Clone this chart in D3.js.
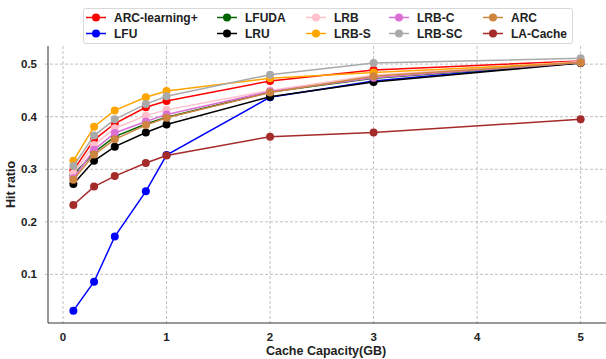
<!DOCTYPE html>
<html><head><meta charset="utf-8">
<script src="https://cdn.jsdelivr.net/npm/d3@7"></script>
<style>body{margin:0;background:#fff}svg{display:block;font-family:"Liberation Sans",Arial,sans-serif}</style>
</head><body><svg id="c" width="606" height="359"></svg>
<script>
const capacities = [0.1, 0.3, 0.5, 0.8, 1, 2, 3, 5];
const seriesNames = ["ARC-learning+","LFU","LFUDA","LRU","LRB","LRB-S","LRB-C","LRB-SC","ARC","LA-Cache"];
const seriesColors = ["#ff0000","#0000ff","#006400","#000000","#ffc0cb","#ffa500","#da70d6","#a9a9a9","#cd853f","#a52a2a"];
const arcLearning = [0.298,0.356,0.387,0.418,0.430,0.468,0.489,0.506];
const lfu         = [0.031,0.086,0.172,0.258,0.327,0.437,0.468,0.503];
const lfuda       = [0.289,0.332,0.362,0.386,0.399,0.447,0.473,0.502];
const lru         = [0.272,0.316,0.343,0.370,0.385,0.438,0.466,0.502];
const lrb         = [0.292,0.346,0.378,0.402,0.413,0.450,0.479,0.505];
const lrbS        = [0.316,0.381,0.412,0.437,0.449,0.473,0.484,0.503];
const lrbC        = [0.283,0.337,0.369,0.391,0.404,0.448,0.474,0.503];
const lrbSC       = [0.306,0.364,0.395,0.424,0.439,0.480,0.502,0.511];
const arc         = [0.280,0.328,0.357,0.384,0.398,0.446,0.477,0.503];
const laCache     = [0.232,0.267,0.287,0.312,0.326,0.362,0.370,0.395];
const seriesValues = [arcLearning,lfu,lfuda,lru,lrb,lrbS,lrbC,lrbSC,arc,laCache];
const xTicks = [0,1,2,3,4,5];
const yTicks = [0.1,0.2,0.3,0.4,0.5];
const xLabel = "Cache Capacity(GB)";
const yLabel = "Hit ratio";

const svg = d3.select("#c");
const L = 48, R = 606, T = 46, B = 323;
const x = d3.scaleLinear().domain([-0.145, 5.245]).range([L, R]);
const y = d3.scaleLinear().domain([0.0075, 0.5345]).range([B, T]);

// grid
const g = svg.append("g");
g.selectAll(".gx").data(xTicks).join("line")
  .attr("x1", d=>x(d)).attr("x2", d=>x(d)).attr("y1", T).attr("y2", B+3)
  .attr("stroke", "#b0b0b0").attr("stroke-width", 0.8).attr("stroke-dasharray", "3,2");
g.selectAll(".gy").data(yTicks).join("line")
  .attr("y1", d=>y(d)).attr("y2", d=>y(d)).attr("x1", L-3).attr("x2", R)
  .attr("stroke", "#b0b0b0").attr("stroke-width", 0.8).attr("stroke-dasharray", "3,2");

// spines
svg.append("line").attr("x1", L).attr("x2", L).attr("y1", T).attr("y2", B).attr("stroke", "#333").attr("stroke-width", 1);
svg.append("line").attr("x1", L).attr("x2", R).attr("y1", B).attr("y2", B).attr("stroke", "#333").attr("stroke-width", 1);

// tick labels
svg.selectAll(".xt").data(xTicks).join("text")
  .attr("x", d=>x(d)).attr("y", B+18).attr("text-anchor","middle")
  .attr("font-size", 11.5).attr("font-weight","bold").attr("fill","#222").text(d=>d);
svg.selectAll(".yt").data(yTicks).join("text")
  .attr("x", L-11).attr("y", d=>y(d)+4).attr("text-anchor","end")
  .attr("font-size", 11.5).attr("font-weight","bold").attr("fill","#222").text(d=>d.toFixed(1));

svg.append("text").attr("x", 326).attr("y", 355).attr("text-anchor","middle")
  .attr("font-size", 12.5).attr("font-weight","bold").attr("fill","#222").text(xLabel);
svg.append("text").attr("transform","translate(15,"+((T+B)/2)+") rotate(-90)").attr("text-anchor","middle")
  .attr("font-size", 12.5).attr("font-weight","bold").attr("fill","#222").text(yLabel);

// series
const line = d3.line().x((d,i)=>x(capacities[i])).y(d=>y(d));
seriesValues.forEach((vals, k) => {
  const sg = svg.append("g");
  sg.append("path").attr("d", line(vals)).attr("fill","none")
    .attr("stroke", seriesColors[k]).attr("stroke-width", 1.5);
  sg.selectAll("circle").data(vals).join("circle")
    .attr("cx", (d,i)=>x(capacities[i])).attr("cy", d=>y(d)).attr("r", 4)
    .attr("fill", seriesColors[k]);
});

// legend
const lg = svg.append("g");
lg.append("rect").attr("x", 83.5).attr("y", 8.5).attr("width", 489).attr("height", 35)
  .attr("rx", 2).attr("fill","#fff").attr("stroke","#d8d8d8");
const colX = [86, 217, 306, 389, 483];
const rowY = [17.5, 33.5];
seriesNames.forEach((name, k) => {
  const c = Math.floor(k/2), r = k%2;
  const lx = colX[c], ly = rowY[r];
  lg.append("line").attr("x1", lx).attr("x2", lx+20).attr("y1", ly).attr("y2", ly)
    .attr("stroke", seriesColors[k]).attr("stroke-width", 1.5);
  lg.append("circle").attr("cx", lx+10).attr("cy", ly).attr("r", 4).attr("fill", seriesColors[k]);
  lg.append("text").attr("x", lx+28).attr("y", ly+4).attr("font-size", 12)
    .attr("font-weight","bold").attr("fill","#222").text(name);
});
</script></body></html>
